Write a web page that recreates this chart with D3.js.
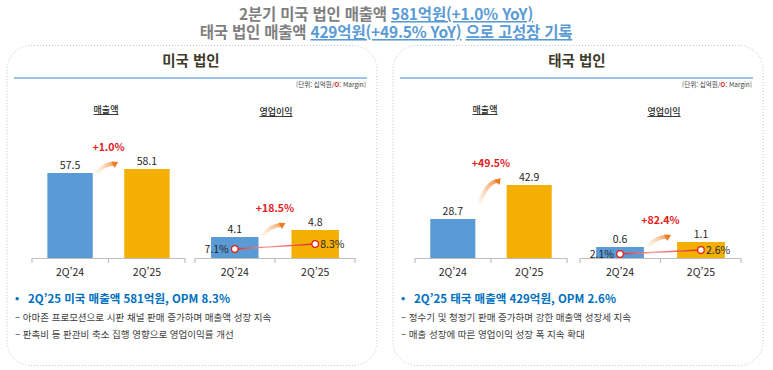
<!DOCTYPE html>
<html lang="ko">
<head>
<meta charset="UTF-8">
<title>2Q'25 해외 법인 실적</title>
<script src="https://d3js.org/d3.v7.min.js"></script>
<style>
    body { margin: 0; background: #fff; }
    text { font-family: 'Noto Sans CJK KR', 'Noto Sans', sans-serif; }
</style>
</head>
<body>
<script>
    const width  = 773;
    const height = 370;

    // data
    const periods = ["2Q\u201924", "2Q\u201925"];
    const usRevenue = [57.5, 58.1];
    const usOp = [4.1, 4.8];
    const usMargin = [7.1, 8.3];
    const thRevenue = [28.7, 42.9];
    const thOp = [0.6, 1.1];
    const thMargin = [2.1, 2.6];
    const growth = {usRev: "+1.0%", usOp: "+18.5%", thRev: "+49.5%", thOp: "+82.4%"};

    const BLUE = "#5b9bd5", ORANGE = "#f3b003", RED = "#e0201c";

    const svg = d3.select("body").append("svg")
        .attr("width", width).attr("height", height);
    const defs = svg.append("defs");

    // headline
    const head = svg.append("g").attr("font-weight", 700).attr("font-size", 15.5)
        .attr("text-anchor", "middle").attr("fill", "#7f7f7f");
    const h1 = head.append("text").attr("x", 386).attr("y", 20).attr("letter-spacing", -0.2);
    h1.append("tspan").text("2분기 미국 법인 매출액 ");
    h1.append("tspan").attr("fill", BLUE).attr("text-decoration", "underline").text("581억원(+1.0% YoY)");
    const h2 = head.append("text").attr("x", 386).attr("y", 38).attr("letter-spacing", -0.2);
    h2.append("tspan").text("태국 법인 매출액 ");
    h2.append("tspan").attr("fill", BLUE).attr("text-decoration", "underline").text("429억원(+49.5% YoY)");
    h2.append("tspan").text(" ");
    h2.append("tspan").attr("fill", BLUE).attr("text-decoration", "underline").text("으로 고성장 기록");

    let arrowId = 0;

    function drawChart(g, cfg) {
        const x = d3.scaleBand().domain(periods).range(cfg.xr)
            .paddingInner(0.41).paddingOuter(0.2);
        const y = d3.scaleLinear().domain(cfg.yd).range([cfg.base, cfg.top]);

        // axis
        g.append("line").attr("x1", cfg.xr[0]).attr("x2", cfg.xr[1])
            .attr("y1", cfg.base + 0.5).attr("y2", cfg.base + 0.5)
            .attr("stroke", "#bfbfbf").attr("stroke-width", 1.2);
        const ticks = [cfg.xr[0], (cfg.xr[0] + cfg.xr[1]) / 2, cfg.xr[1]];
        g.selectAll(".tk").data(ticks).join("line")
            .attr("x1", d => d).attr("x2", d => d)
            .attr("y1", cfg.base).attr("y2", cfg.base + 5)
            .attr("stroke", "#bfbfbf").attr("stroke-width", 1.2);

        g.selectAll(".cat").data(periods).join("text")
            .attr("x", d => x(d) + x.bandwidth() / 2).attr("y", cfg.base + 18)
            .attr("text-anchor", "middle").attr("font-size", 10.5).attr("fill", "#262626")
            .text(d => d);

        // bars
        g.selectAll(".bar").data(cfg.values).join("rect")
            .attr("x", (d, i) => x(periods[i])).attr("width", x.bandwidth())
            .attr("y", d => y(d)).attr("height", d => cfg.base - y(d))
            .attr("fill", (d, i) => i === 0 ? BLUE : ORANGE);

        g.selectAll(".val").data(cfg.values).join("text")
            .attr("x", (d, i) => x(periods[i]) + x.bandwidth() / 2)
            .attr("y", d => y(d) - 4)
            .attr("text-anchor", "middle").attr("font-size", 10.5).attr("fill", "#262626")
            .text(d => d.toFixed(1));

        // growth arrow
        const t1 = y(cfg.values[0]), t2 = y(cfg.values[1]);
        const x0 = x(periods[0]) + x.bandwidth() + 4;
        const x1 = x(periods[1]) - 6;
        const y0 = (t1 + t2) / 2 + 2, yEnd = t2 - 7;
        const id = "arr" + (arrowId++);
        const grad = defs.append("linearGradient").attr("id", id)
            .attr("gradientUnits", "userSpaceOnUse")
            .attr("x1", x0).attr("y1", y0).attr("x2", x1).attr("y2", yEnd);
        grad.append("stop").attr("offset", 0).attr("stop-color", "#fbe3c8").attr("stop-opacity", 0.3);
        grad.append("stop").attr("offset", 1).attr("stop-color", "#ee7d22");
        const ang = Math.atan2(yEnd - y0, x1 - x0);
        const cx = x0 + (x1 - x0) * 0.35, cy = yEnd + (y0 - yEnd) * 0.15;
        const hx = x1 - 4 * Math.cos(ang), hy = yEnd - 4 * Math.sin(ang);
        g.append("path")
            .attr("d", `M${x0},${y0} Q${cx},${cy} ${hx},${hy}`)
            .attr("fill", "none").attr("stroke", `url(#${id})`).attr("stroke-width", 4);
        const a1 = ang + 2.6, a2 = ang - 2.6;
        g.append("path")
            .attr("d", `M${x1},${yEnd} L${x1 + 7 * Math.cos(a1)},${yEnd + 7 * Math.sin(a1)} L${x1 + 7 * Math.cos(a2)},${yEnd + 7 * Math.sin(a2)}Z`)
            .attr("fill", "#ee7d22");

        g.append("text")
            .attr("x", (x(periods[0]) + x(periods[1])) / 2 + x.bandwidth() / 2)
            .attr("y", t2 - 18)
            .attr("text-anchor", "middle").attr("font-size", 10.5).attr("font-weight", 700)
            .attr("fill", RED).text(cfg.growth);

        // margin line
        if (cfg.margin) {
            const ym = d3.scaleLinear().domain(cfg.md).range(cfg.mr);
            const pts = cfg.margin.map((d, i) => [x(periods[i]) + x.bandwidth() / 2, ym(d)]);
            const gid = "mg" + (arrowId++);
            const mg = defs.append("linearGradient").attr("id", gid)
                .attr("gradientUnits", "userSpaceOnUse")
                .attr("x1", pts[0][0]).attr("y1", 0).attr("x2", pts[1][0]).attr("y2", 0);
            mg.append("stop").attr("offset", 0).attr("stop-color", "#e8201c");
            mg.append("stop").attr("offset", 0.4).attr("stop-color", "#f6a0a0");
            mg.append("stop").attr("offset", 1).attr("stop-color", "#e8201c");
            g.append("path").attr("d", d3.line()(pts))
                .attr("stroke", `url(#${gid})`).attr("stroke-width", 1.3).attr("fill", "none");
            g.selectAll(".pt").data(pts).join("circle")
                .attr("cx", d => d[0]).attr("cy", d => d[1]).attr("r", 3.3)
                .attr("fill", "#fff").attr("stroke", RED).attr("stroke-width", 1.3);
            g.selectAll(".ml").data(cfg.margin).join("text")
                .attr("x", (d, i) => pts[i][0] + (i === 0 ? -6 : 5))
                .attr("y", (d, i) => pts[i][1] + 4)
                .attr("text-anchor", (d, i) => i === 0 ? "end" : "start")
                .attr("font-size", 10.5).attr("fill", "#262626")
                .text(d => d.toFixed(1) + "%");
        }
    }

    function drawPanel(px, name, charts, bullets) {
        const g = svg.append("g");
        g.append("rect").attr("x", px).attr("y", 45.5).attr("width", 370).attr("height", 320)
            .attr("rx", 24).attr("fill", "none").attr("stroke", "#c4c4c4")
            .attr("stroke-width", 1).attr("stroke-dasharray", "1,2");
        g.append("text").attr("x", px + 184).attr("y", 66).attr("text-anchor", "middle")
            .attr("font-size", 14.5).attr("font-weight", 700).attr("fill", "#3d3a2a").text(name);
        g.append("line").attr("x1", px + 7).attr("x2", px + 360).attr("y1", 78).attr("y2", 78)
            .attr("stroke", "#9dc3e6").attr("stroke-width", 2.2);
        const unit = g.append("text").attr("x", px + 359).attr("y", 87).attr("text-anchor", "end")
            .attr("font-size", 6.5).attr("fill", "#404040");
        unit.append("tspan").text("[단위: 십억원/");
        unit.append("tspan").attr("fill", RED).attr("font-weight", 700).text("O");
        unit.append("tspan").text(": Margin]");

        g.append("text").attr("x", charts[0].sub).attr("y", 113).attr("text-anchor", "middle")
            .attr("font-size", 9).attr("font-weight", 500).attr("fill", "#262626")
            .attr("text-decoration", "underline").text("매출액");
        g.append("text").attr("x", charts[1].sub).attr("y", 115).attr("text-anchor", "middle")
            .attr("font-size", 9).attr("font-weight", 500).attr("fill", "#262626")
            .attr("text-decoration", "underline").text("영업이익");

        charts.forEach(c => drawChart(g.append("g"), c));

        g.append("text").attr("x", px + 8).attr("y", 302).attr("font-size", 11)
            .attr("fill", "#0070c0").attr("font-weight", 700).text("•");
        g.append("text").attr("x", px + 21).attr("y", 303).attr("font-size", 11.5)
            .attr("fill", "#0070c0").attr("font-weight", 700).text(bullets[0]);
        g.selectAll(".bl").data(bullets.slice(1)).join("text")
            .attr("x", px + 8).attr("y", (d, i) => 321 + i * 17)
            .attr("font-size", 9.5).attr("fill", "#404040").text(d => "\u2013 " + d);
    }

    drawPanel(7, "미국 법인", [
        {sub: 106, xr: [32, 185], base: 258, top: 169, yd: [44.75, 58.1], values: usRevenue, growth: growth.usRev},
        {sub: 276, xr: [195, 355], base: 258, top: 230, yd: [2.0, 4.8], values: usOp, growth: growth.usOp,
         margin: usMargin, md: [7.1, 8.3], mr: [249, 244]}
    ], [
        "2Q\u201925 미국 매출액 581억원, OPM 8.3%",
        "아마존 프로모션으로 시판 채널 판매 증가하며 매출액 성장 지속",
        "판촉비 등 판관비 축소 집행 영향으로 영업이익률 개선"
    ]);

    drawPanel(393, "태국 법인", [
        {sub: 485, xr: [415, 567], base: 258, top: 185, yd: [12.4, 42.9], values: thRevenue, growth: growth.thRev},
        {sub: 664, xr: [580, 741], base: 258, top: 242, yd: [-0.5, 1.1], values: thOp, growth: growth.thOp,
         margin: thMargin, md: [2.1, 2.6], mr: [254, 250]}
    ], [
        "2Q\u201925 태국 매출액 429억원, OPM 2.6%",
        "정수기 및 청정기 판매 증가하며 강한 매출액 성장세 지속",
        "매출 성장에 따른 영업이익 성장 폭 지속 확대"
    ]);
</script>
</body>
</html>
